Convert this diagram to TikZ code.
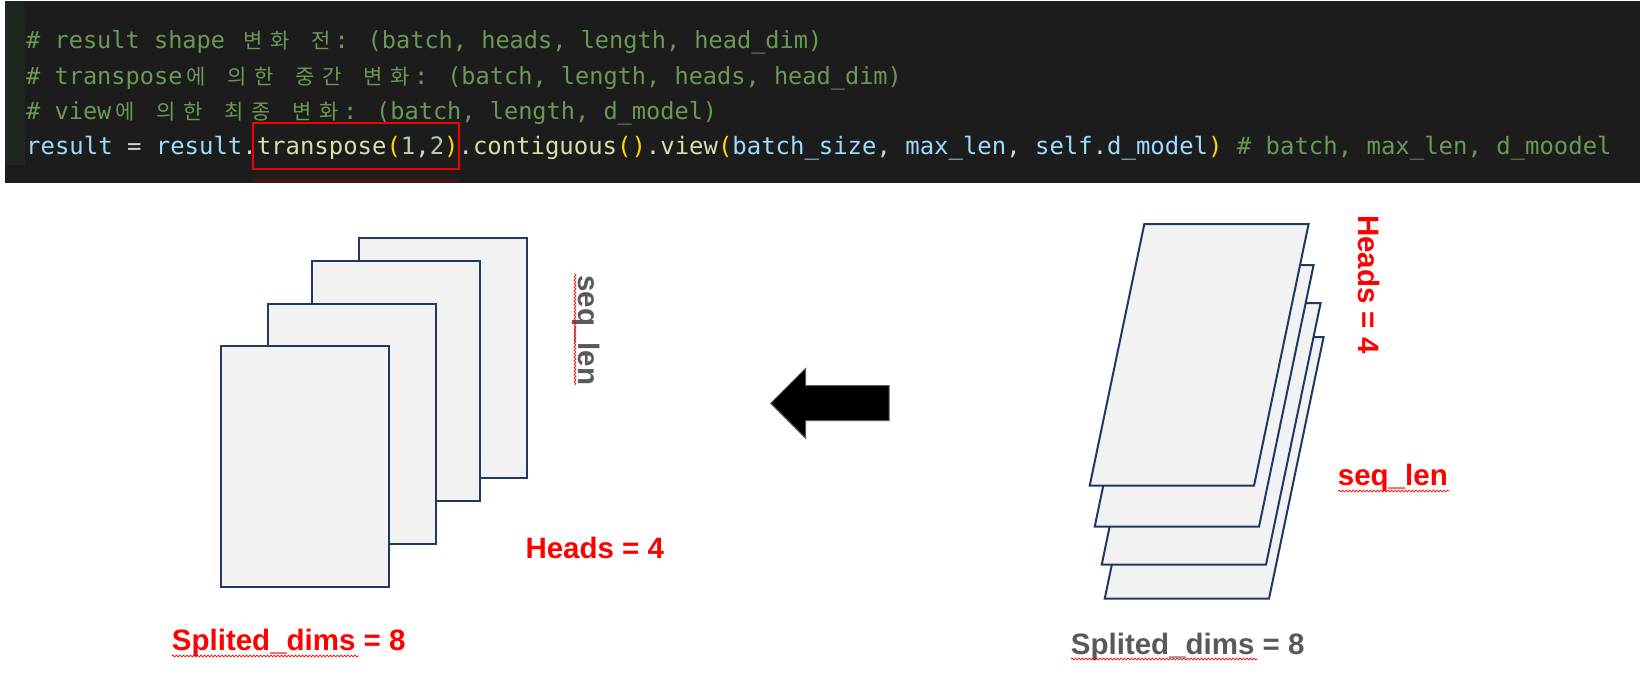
\documentclass[tikz,border=0pt]{standalone}
\usepackage{fontspec}
\setmainfont{Liberation Sans}
\newfontfamily\codefont{DejaVu Sans Mono}
\newfontfamily\krfont{Noto Sans CJK KR}
\usetikzlibrary{decorations.pathmorphing}
\definecolor{panelbg}{HTML}{1C1C1C}
\definecolor{gutterbg}{HTML}{1F261F}
\definecolor{cmt}{HTML}{6A9955}
\definecolor{varc}{HTML}{9CDCFE}
\definecolor{fnc}{HTML}{DCDCAA}
\definecolor{parc}{HTML}{FFD700}
\definecolor{numc}{HTML}{B5CEA8}
\definecolor{opc}{HTML}{D4D4D4}
\definecolor{sheetfill}{HTML}{F2F2F2}
\definecolor{sheetline}{HTML}{1F3864}
\definecolor{labelgray}{HTML}{595959}
\definecolor{hlred}{HTML}{F00000}
\definecolor{darkred}{HTML}{3E1616}
\newcommand\kc[1]{\makebox[27bp][c]{\krfont\fontsize{21bp}{21bp}\selectfont #1}}
\newcommand\cc[2]{\textcolor{#1}{#2}}
\begin{document}
\begin{tikzpicture}[x=1bp,y=-1bp,
  codeline/.style={anchor=base west, inner sep=0pt, font=\codefont\fontsize{23.6bp}{28bp}\selectfont},
  sheet/.style={fill=sheetfill, draw=sheetline, line width=2bp, line join=miter},
  lbl/.style={anchor=base west, inner sep=0pt, font=\bfseries\fontsize{29.5bp}{31bp}\selectfont},
  squig/.style={draw=red, line width=0.7bp, decorate, decoration={snake, amplitude=0.9bp, segment length=3.5bp}}]
\useasboundingbox (0,0) rectangle (1640,679);
\fill[white] (0,0) rectangle (1640,679);
% code panel
\fill[panelbg] (5,1) rectangle (1640,183);
\fill[gutterbg] (5,1) rectangle (25,165);
\node[codeline, text=cmt] (c1) at (26,49) {\# result shape \kc{변}\kc{화} \kc{전}: (batch, heads, length, head\_dim)};
\node[codeline, text=cmt] (c2) at (26,84.5) {\# transpose\kc{에} \kc{의}\kc{한} \kc{중}\kc{간} \kc{변}\kc{화}: (batch, length, heads, head\_dim)};
\node[codeline, text=cmt] (c3) at (26,119.8) {\# view\kc{에} \kc{의}\kc{한} \kc{최}\kc{종} \kc{변}\kc{화}: (batch, length, d\_model)};
\node[codeline, font=\codefont\fontsize{23.94bp}{28bp}\selectfont] (c4) at (26,155) {\cc{varc}{result} \cc{opc}{=} \cc{varc}{result}\cc{opc}{.}\cc{fnc}{transpose}\cc{parc}{(}\cc{numc}{1}\cc{opc}{,}\cc{numc}{2}\cc{parc}{)}\cc{opc}{.}\cc{fnc}{contiguous}\cc{parc}{()}\cc{opc}{.}\cc{fnc}{view}\cc{parc}{(}\cc{varc}{batch\_size}\cc{opc}{,} \cc{varc}{max\_len}\cc{opc}{,} \cc{varc}{self}\cc{opc}{.}\cc{varc}{d\_model}\cc{parc}{)} \cc{cmt}{\# batch, max\_len, d\_moodel}};
\node[draw=hlred, line width=2bp, inner sep=0pt, minimum width=206.6bp, minimum height=45.7bp] (hl) at (356,146.2) {};
\fill[darkred] (253,178) rectangle (459,183);
% left stack
\draw[sheet] (358.7,237.7) rectangle ++(168.3,240);
\draw[sheet] (311.7,261) rectangle ++(168.3,240);
\draw[sheet] (267.9,303.7) rectangle ++(168.3,240);
\draw[sheet] (220.9,346.3) rectangle ++(168.3,240.7);
\node[lbl, text=labelgray, rotate=-90] (lseq) at (578.6,275) {seq\_len};
\draw[squig] (575,274) -- (575,385);
\node[lbl, text=red] (lheads) at (525.3,558) {Heads = 4};
\node[lbl, text=red] (lsplit) at (171.7,650) {Splited\_dims = 8};
\draw[squig] (172,656) -- (359,656);
% arrow
\fill[black, draw=labelgray, line width=1bp, line join=miter] (770.7,403.3) -- (805.7,368.3) -- (805.7,385.7) -- (889,385.7) -- (889,420.7) -- (805.7,420.7) -- (805.7,438.3) -- cycle;
% right stack
\foreach \bx/\by in {1104.7/598.7, 1101.7/564.7, 1094.7/526.7, 1089.7/485.7}{
  \draw[sheet] (\bx,\by) -- ++(164.3,0) -- ++(54.6,-261.7) -- ++(-164.3,0) -- cycle;
}
\node[lbl, text=red, rotate=-90] (rheads) at (1358.3,215) {Heads = 4};
\node[lbl, text=red] (rseq) at (1337.7,485) {seq\_len};
\draw[squig] (1338,491) -- (1449,491);
\node[lbl, text=labelgray] (rsplit) at (1070.7,654) {Splited\_dims = 8};
\draw[squig] (1071,659) -- (1257,659);
\end{tikzpicture}
\end{document}
